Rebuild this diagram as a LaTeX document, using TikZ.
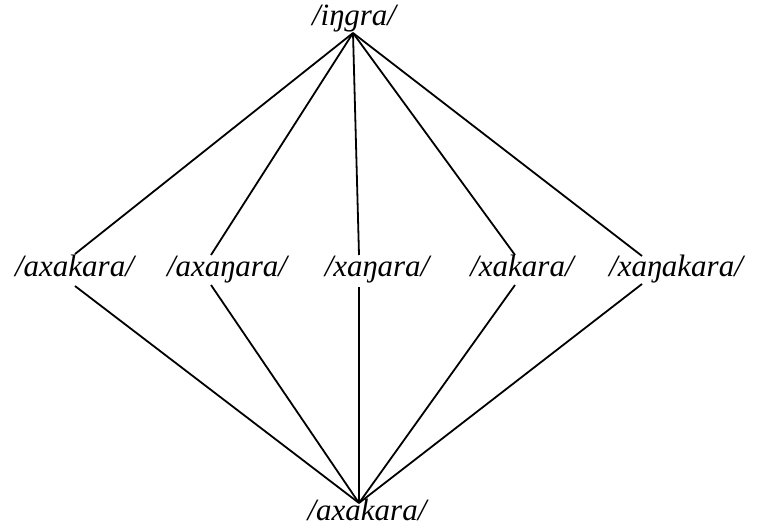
\documentclass[tikz,border=0pt]{standalone}
\usepackage{fontspec}
\setmainfont{Liberation Serif}
\begin{document}
\begin{tikzpicture}[x=1pt,y=-1pt,
  lbl/.style={inner sep=0pt,anchor=base,font=\fontsize{31}{37}\selectfont\itshape},
  edge/.style={line width=1.8pt}]
\useasboundingbox (0,0) rectangle (758,527);
% text nodes
\node[lbl] (top) at (354,26) {/iŋgra/};
\node[lbl] (n1) at (74.5,276) {/axakara/};
\node[lbl] (n2) at (227,276) {/axaŋara/};
\node[lbl] (n3) at (377,276) {/xaŋara/};
\node[lbl] (n4) at (522,276) {/xakara/};
\node[lbl] (n5) at (676,276) {/xaŋakara/};
\node[lbl] (bot) at (367,520) {/axakara/};
% connector ends
\coordinate (tA) at (353,33);
\coordinate (bA) at (359,503);
\coordinate (n1t) at (75,254);  \coordinate (n1b) at (75,286);
\coordinate (n2t) at (211,255); \coordinate (n2b) at (211,285);
\coordinate (n3t) at (359,255); \coordinate (n3b) at (359,287);
\coordinate (n4t) at (515,255); \coordinate (n4b) at (515,285);
\coordinate (n5t) at (642,256); \coordinate (n5b) at (642,284);
\foreach \i in {1,...,5}{
  \draw[edge] (tA) -- (n\i t);
  \draw[edge] (n\i b) -- (bA);
}
\end{tikzpicture}
\end{document}
